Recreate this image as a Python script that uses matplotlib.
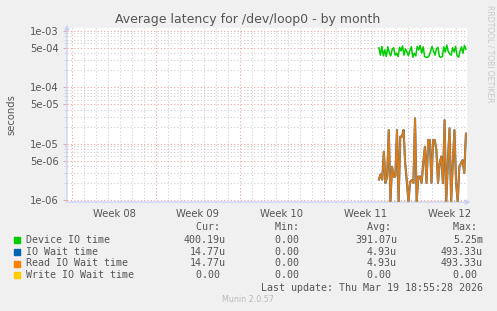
import matplotlib
matplotlib.use("Agg")
import matplotlib.pyplot as plt
import numpy as np

# ---- data ----
week_labels = ["Week 08", "Week 09", "Week 10", "Week 11", "Week 12"]
week_starts = [0, 7, 14, 21, 28]          # days from start of week 08
data_start, data_end = 25.58, 32.83       # days

device_io = [5.0, 3.7, 5.3, 3.6, 4.6, 3.5, 5.2, 4.1, 3.6, 4.7, 5.0, 3.7, 4.0, 3.5,
             5.1, 4.4, 5.4, 3.7, 4.8, 4.2, 3.6, 4.5, 5.2, 3.4, 4.0, 3.6, 5.3, 4.6,
             5.5, 4.0, 5.2, 3.5, 3.4, 3.4, 3.6, 4.3, 5.3, 4.4, 3.7, 4.8, 5.1, 3.5,
             3.4, 3.5, 5.2, 4.2, 5.6, 4.3, 3.9, 3.7, 5.0, 4.2, 5.3, 3.6, 3.4, 4.4,
             5.2, 4.0, 5.5, 4.7]
device_io = [v * 1e-4 for v in device_io]

read_wait = [2.3e-6, 2.85e-6, 2.3e-6, 7.2e-6, 2.0e-6, 2.6e-6, 1.74e-5, 0, 3.9e-6,
             2.6e-6, 2.6e-6, 1.74e-5, 0, 1.33e-5, 1.33e-5, 1.74e-5, 4.5e-6, 2.1e-6,
             0, 2.1e-6, 2.26e-6, 2.0e-6, 2.8e-5, 0, 2.6e-6, 2.6e-6, 2.0e-6, 4.5e-6,
             8.8e-6, 2.0e-6, 1.16e-5, 1.16e-5, 2.0e-6, 1.16e-5, 1.16e-5, 7.7e-6,
             2.0e-6, 4.5e-6, 5.9e-6, 2.0e-6, 2.6e-5, 0, 4.5e-6, 1.87e-5, 0, 4.5e-6,
             1.74e-5, 2.0e-6, 0, 3.9e-6, 4.5e-6, 5.1e-6, 3.0e-6, 1.5e-5]
io_wait = list(read_wait)
write_wait = [0.0] * len(read_wait)

legend_rows = [
    ("Device IO time", "#00CC00", "400.19u", "0.00 ", "391.07u", "5.25m"),
    ("IO Wait time", "#0066B3", "14.77u", "0.00 ", "4.93u", "493.33u"),
    ("Read IO Wait time", "#FF8000", "14.77u", "0.00 ", "4.93u", "493.33u"),
    ("Write IO Wait time", "#FFCC00", "0.00 ", "0.00 ", "0.00 ", "0.00 "),
]

W, H = 497, 311
ymin, ymax = 10 ** -6.035, 10 ** -2.95
txt = "#555555"

fig = plt.figure(figsize=(W / 100, H / 100), dpi=100, facecolor="#F0F0F0")
ax = fig.add_axes([67 / W, 1 - 202 / H, 400 / W, 174 / H])
ax.set_facecolor("white")
ax.set_yscale("log")
ax.set_xlim(-0.417, 32.92)
ax.set_ylim(ymin, ymax)

# grid
for d in range(0, 33):
    if d in week_starts:
        continue
    ax.axvline(d, color="#D0D0D0", lw=0.8, ls=(0, (1, 2)), zorder=1)
for d in week_starts:
    ax.axvline(d, color="#E8A8A8", lw=0.8, ls=(0, (1, 2)), zorder=1.2)

major_y = [1e-6, 5e-6, 1e-5, 5e-5, 1e-4, 5e-4, 1e-3]
ax.set_yticks(major_y, ["1e-06", "5e-06", "1e-05", "5e-05", "1e-04", "5e-04", "1e-03"])
minor_y = [m * 10.0 ** e for e in range(-7, -2) for m in (2, 3, 4, 6, 7, 8, 9)]
minor_y = [v for v in minor_y if ymin < v < ymax]
ax.set_yticks(minor_y, minor=True)
ax.yaxis.set_minor_formatter(plt.NullFormatter())
ax.grid(which="major", axis="y", color="#E8A8A8", lw=0.8, ls=(0, (1, 2)), zorder=1.2)
ax.grid(which="minor", axis="y", color="#D0D0D0", lw=0.8, ls=(0, (1, 2)), zorder=1)
ax.set_axisbelow(True)

ax.set_xticks([w + 3.5 for w in week_starts], week_labels)
ax.tick_params(axis="x", length=0, pad=5, labelsize=7.2, labelcolor=txt)
ax.tick_params(axis="y", which="major", length=3, color="#E8A8A8", pad=3,
               labelsize=7.2, labelcolor=txt)
ax.tick_params(axis="y", which="minor", length=2, color="#D0D0D0")

for s in ax.spines.values():
    s.set_visible(False)
axis_col = "#C8D0F8"
ax.annotate("", xy=(0, 1.035), xytext=(0, 0), xycoords="axes fraction",
            arrowprops=dict(arrowstyle="-|>", color=axis_col, lw=0.9,
                            mutation_scale=7), annotation_clip=False)
ax.annotate("", xy=(1.016, 0), xytext=(-0.01, 0), xycoords="axes fraction",
            arrowprops=dict(arrowstyle="-|>", color=axis_col, lw=0.9,
                            mutation_scale=7), annotation_clip=False)

# series
t_g = np.linspace(data_start, data_end, len(device_io))
t_o = np.linspace(data_start, data_end, len(read_wait))
floor = ymin * 1.02
clamp = lambda v: np.where(np.array(v) > 0, v, floor)
ax.plot(t_g, device_io, color="#00CC00", lw=1.1, zorder=3)
ax.plot(t_o, clamp(io_wait), color="#0066B3", lw=1.5, zorder=3)
ax.plot(t_o, clamp(read_wait), color="#FF8000", lw=1.3, alpha=0.85, zorder=4)
ax.plot(t_o, clamp(write_wait), color="#FFCC00", lw=1.0, alpha=0.6, zorder=4)

# titles / labels
fig.text(248 / W, 1 - 19 / H, "Average latency for /dev/loop0 - by month",
         ha="center", va="center", fontsize=9, color=txt)
fig.text(11 / W, 1 - 115 / H, "seconds", rotation=90, ha="center", va="center",
         fontsize=7.2, color=txt)
fig.text(490 / W, 1 - 5 / H, "RRDTOOL / TOBI OETIKER", rotation=270, ha="center",
         va="top", fontsize=5.5, color="#C8C8C8")

# legend
mono = dict(family="DejaVu Sans Mono", fontsize=7.2, color=txt, va="center")
col_right = [226, 305, 397, 483]
for x, h in zip(col_right, ["Cur: ", "Min: ", "Avg: ", "Max: "]):
    fig.text(x / W, 1 - 227.5 / H, h, ha="right", **mono)
for i, (name, c, *vals) in enumerate(legend_rows):
    y = 239.7 + 11.9 * i
    fig.patches.append(plt.Rectangle((14 / W, 1 - (y + 3) / H), 6 / W, 6 / H,
                                     transform=fig.transFigure, color=c))
    fig.text(26 / W, 1 - y / H, name, ha="left", **mono)
    for x, v in zip(col_right, vals):
        fig.text(x / W, 1 - y / H, v, ha="right", **mono)
fig.text(483 / W, 1 - 287.7 / H, "Last update: Thu Mar 19 18:55:28 2026",
         ha="right", **mono)
fig.text(248 / W, 1 - 300 / H, "Munin 2.0.57", ha="center", va="center",
         fontsize=5.8, color="#BBBBBB")

fig.savefig("out.png", dpi=100, facecolor=fig.get_facecolor())
